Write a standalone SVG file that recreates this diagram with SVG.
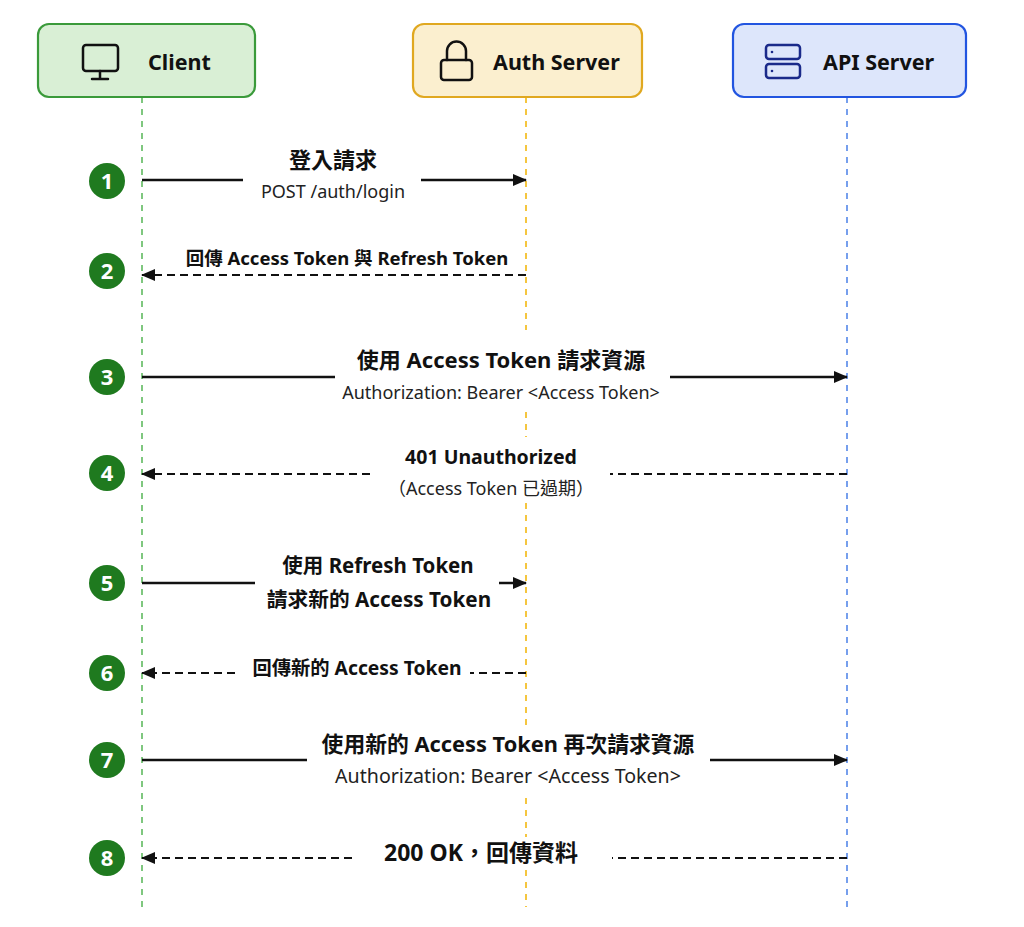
<svg xmlns="http://www.w3.org/2000/svg" width="1024" height="927" viewBox="0 0 1024 927">
<defs>
<marker id="arr" viewBox="0 0 14 12" refX="13" refY="6" markerWidth="14" markerHeight="12" markerUnits="userSpaceOnUse" orient="auto">
<path d="M0,0 L14,6 L0,12 Z" fill="#111"/>
</marker>
<style>
.hdr{font-family:"Noto Sans","Noto Sans CJK TC",sans-serif;font-weight:700;font-size:21.5px;fill:#111;}
.t{font-family:"Noto Sans","Noto Sans CJK TC",sans-serif;font-weight:700;fill:#111;text-anchor:middle;}
.s{font-family:"Noto Sans","Noto Sans CJK TC",sans-serif;font-weight:400;font-size:18px;fill:#222;text-anchor:middle;}
.num{font-family:"Noto Sans",sans-serif;font-weight:700;font-size:22px;fill:#fff;text-anchor:middle;}
.circ{fill:#1f7a1f;}
.solid{stroke:#111;stroke-width:2.5;fill:none;}
.dash{stroke:#111;stroke-width:2.2;fill:none;stroke-dasharray:8 5;}
.icon{fill:none;stroke:#111;stroke-width:2.5;stroke-linecap:round;stroke-linejoin:round;}
</style>
</defs>
<rect width="1024" height="927" fill="#fff"/>

<g id="lifelines">
<line x1="142" y1="97" x2="142" y2="907" stroke="#55b555" stroke-width="1.5" stroke-dasharray="6 6"/>
<path d="M526,97 V330 M526,412 V437 M526,503 V725 M526,798 V837 M526,870 V907" stroke="#f2b400" stroke-width="1.5" stroke-dasharray="6 6"/>
<line x1="847" y1="97" x2="847" y2="907" stroke="#4a80e8" stroke-width="1.5" stroke-dasharray="6 6"/>
</g>

<g id="client">
<rect x="38" y="24" width="217" height="73" rx="11" fill="#d9efd5" stroke="#3a9a3a" stroke-width="2.2"/>
<rect x="83" y="45" width="35" height="26" rx="3" class="icon"/>
<path d="M100,71 V79 M92,79 H108" class="icon"/>
<text x="148" y="70" class="hdr">Client</text>
</g>

<g id="auth">
<rect x="413" y="24" width="229" height="73" rx="11" fill="#fbefcf" stroke="#e0a820" stroke-width="2.2"/>
<rect x="441" y="60" width="31" height="20" rx="3" class="icon"/>
<path d="M447,60 V51 A9.5,9.5 0 0 1 466,51 V60" class="icon"/>
<text x="493" y="70" class="hdr">Auth Server</text>
</g>

<g id="api">
<rect x="733" y="24" width="233" height="73" rx="11" fill="#dde6fb" stroke="#2255e0" stroke-width="2.2"/>
<rect x="766" y="45" width="34" height="14" rx="3" fill="none" stroke="#1a2a8a" stroke-width="2.5"/>
<rect x="766" y="64" width="34" height="14" rx="3" fill="none" stroke="#1a2a8a" stroke-width="2.5"/>
<circle cx="772" cy="52" r="1.3" fill="#1a2a8a"/>
<circle cx="772" cy="71" r="1.3" fill="#1a2a8a"/>
<text x="823" y="70" class="hdr">API Server</text>
</g>

<g id="steps">
<circle cx="107" cy="181" r="18" class="circ"/><text x="107" y="189" class="num">1</text>
<circle cx="107" cy="271" r="18" class="circ"/><text x="107" y="279" class="num">2</text>
<circle cx="107" cy="377" r="18" class="circ"/><text x="107" y="385" class="num">3</text>
<circle cx="107" cy="473" r="18" class="circ"/><text x="107" y="481" class="num">4</text>
<circle cx="107" cy="583" r="18" class="circ"/><text x="107" y="591" class="num">5</text>
<circle cx="107" cy="673" r="18" class="circ"/><text x="107" y="681" class="num">6</text>
<circle cx="107" cy="760" r="18" class="circ"/><text x="107" y="768" class="num">7</text>
<circle cx="107" cy="858" r="18" class="circ"/><text x="107" y="866" class="num">8</text>
</g>

<g id="connectors">
<path d="M142,180 H243" class="solid"/>
<path d="M421,180 H526" class="solid" marker-end="url(#arr)"/>
<path d="M526,275 H142" class="dash" marker-end="url(#arr)"/>
<path d="M142,377 H335" class="solid"/>
<path d="M670,377 H847" class="solid" marker-end="url(#arr)"/>
<path d="M847,474 H610" class="dash"/>
<path d="M370,474 H142" class="dash" marker-end="url(#arr)"/>
<path d="M142,583 H255" class="solid"/>
<path d="M499,583 H526" class="solid" marker-end="url(#arr)"/>
<path d="M526,673 H470" class="dash"/>
<path d="M235,673 H142" class="dash" marker-end="url(#arr)"/>
<path d="M142,760 H307" class="solid"/>
<path d="M710,760 H847" class="solid" marker-end="url(#arr)"/>
<path d="M847,858 H612" class="dash"/>
<path d="M352,858 H142" class="dash" marker-end="url(#arr)"/>
</g>

<g id="labels">
<text x="333" y="168" class="t" font-size="22">登入請求</text>
<text x="333" y="198" class="s">POST /auth/login</text>
<text x="347" y="265" class="t" font-size="18.5">回傳 Access Token 與 Refresh Token</text>
<text x="501" y="368" class="t" font-size="22">使用 Access Token 請求資源</text>
<text x="501" y="399" class="s">Authorization: Bearer &lt;Access Token&gt;</text>
<text x="491" y="464" class="t" font-size="19.5">401 Unauthorized</text>
<text x="491" y="495" class="s">（Access Token 已過期）</text>
<text x="378" y="573" class="t" font-size="20.5">使用 Refresh Token</text>
<text x="379" y="607" class="t" font-size="20.7">請求新的 Access Token</text>
<text x="357" y="675" class="t" font-size="19.3">回傳新的 Access Token</text>
<text x="508" y="752" class="t" font-size="21.8">使用新的 Access Token 再次請求資源</text>
<text x="508" y="783" class="s" style="font-size:19.6px">Authorization: Bearer &lt;Access Token&gt;</text>
<text x="481" y="861" class="t" font-size="23">200 OK，回傳資料</text>
</g>
</svg>
